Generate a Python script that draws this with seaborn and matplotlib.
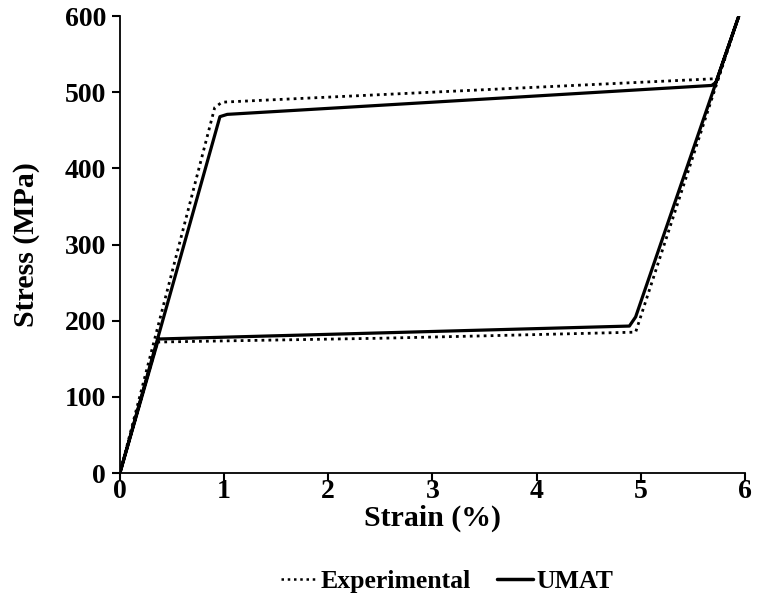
import matplotlib
matplotlib.use("Agg")
import matplotlib.pyplot as plt
import numpy as np
import pandas as pd
import seaborn as sns

# Superelastic stress-strain loop: experimental curve vs. UMAT simulation
exp_strain = [0.0, 0.91, 0.98, 5.74, 5.94, 4.95, 3.45, 2.50, 0.36, 0.0]
exp_stress = [0.0, 480, 487, 518, 600, 185, 180, 177, 172, 0.0]

umat_strain = [0.0, 0.96, 1.03, 3.00, 5.68, 5.72, 5.94, 4.95, 4.89, 2.50, 0.37, 0.0]
umat_stress = [0.0, 468, 471, 487, 509, 513, 600, 205, 193, 184, 176, 0.0]

series_names = ["Experimental", "UMAT"]
x_ticks = [0, 1, 2, 3, 4, 5, 6]
y_ticks = [0, 100, 200, 300, 400, 500, 600]

df = pd.concat([
    pd.DataFrame({"Strain": exp_strain, "Stress": exp_stress,
                  "Series": series_names[0], "step": range(len(exp_strain))}),
    pd.DataFrame({"Strain": umat_strain, "Stress": umat_stress,
                  "Series": series_names[1], "step": range(len(umat_strain))}),
], ignore_index=True)

sns.set_theme(style="white")
plt.rcParams.update({
    "font.family": ["Liberation Serif", "DejaVu Serif"],
    "font.weight": "bold",
    "text.color": "black",
    "axes.labelcolor": "black",
    "xtick.bottom": True,
    "ytick.left": True,
    "xtick.direction": "out",
    "ytick.direction": "out",
    "xtick.major.size": 6,
    "ytick.major.size": 6,
    "xtick.major.width": 1.5,
    "ytick.major.width": 1.5,
    "xtick.color": "black",
    "ytick.color": "black",
    "xtick.major.pad": -2,
    "ytick.major.pad": 4,
})

fig = plt.figure(figsize=(7.59, 5.98), dpi=100)
ax = fig.add_axes([0.158, 0.209, 0.8236, 0.764])

sns.lineplot(data=df, x="Strain", y="Stress", style="Series",
             style_order=series_names, dashes={"Experimental": (1, 1.5), "UMAT": ""},
             sort=False, estimator=None, units="Series", color="black",
             ax=ax, legend=False)
for line, lw in zip(ax.get_lines(), [2.0, 2.3]):
    line.set_linewidth(lw)

ax.set_xlim(0, 6)
ax.set_ylim(0, 600)
ax.set_xticks(x_ticks)
ax.set_yticks(y_ticks)
ax.set_xticklabels([str(t) for t in x_ticks], fontsize=20, fontweight="bold")
ax.set_yticklabels([str(t) for t in y_ticks], fontsize=20, fontweight="bold")
ax.set_xlabel("Strain (%)", fontsize=21.5, fontweight="bold", labelpad=1)
ax.set_ylabel("Stress (MPa)", fontsize=21.5, fontweight="bold", labelpad=18)

for side in ["top", "right"]:
    ax.spines[side].set_visible(False)
for side in ["left", "bottom"]:
    ax.spines[side].set_color("black")
    ax.spines[side].set_linewidth(1.3)
ax.xaxis.set_tick_params(which="major", bottom=True, length=6, width=1.5, color="black")
ax.yaxis.set_tick_params(which="major", left=True, length=6, width=1.5, color="black")

handles = [
    plt.Line2D([], [], color="black", lw=1.8, linestyle=(0, (1, 1.5))),
    plt.Line2D([], [], color="black", lw=2.5),
]
fig.legend(handles, series_names, loc="center", bbox_to_anchor=(0.589, 0.028),
           ncol=2, frameon=False, handlelength=1.4, handletextpad=0.15,
           columnspacing=1.0, prop={"family": "Liberation Serif", "weight": "bold", "size": 18.5})

fig.savefig("out.png", dpi=100)
